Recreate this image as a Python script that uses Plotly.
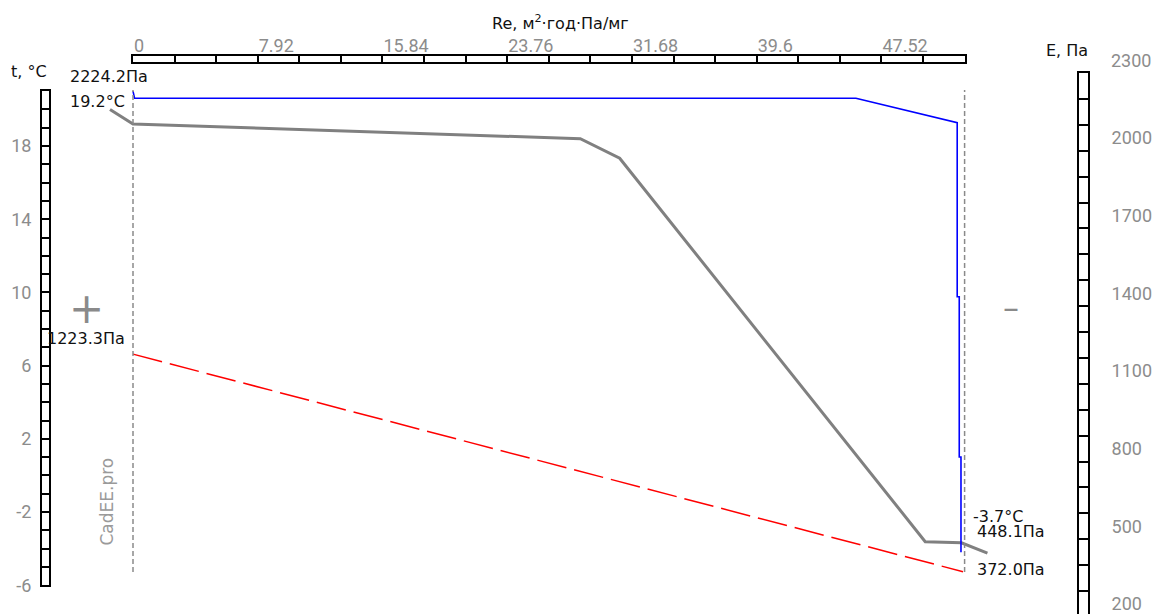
import plotly.graph_objects as go

# ---------------- data ----------------
# temperature profile (x in Re units, t in °C)
temp_x = [-1.46, 0.0, 28.4, 30.9, 50.3, 52.6, 54.25]
temp_t = [20.0, 19.2, 18.4, 17.33, -3.62, -3.68, -4.25]

# saturation vapour pressure E (Pa)
sat_x = [0.0, 0.1, 45.9, 52.33, 52.33, 52.46, 52.46, 52.57, 52.57]
sat_E = [2252.0, 2224.2, 2224.2, 2128.7, 1448.0, 1448.0, 821.0, 821.0, 448.1]

# partial vapour pressure e (Pa)
part_x = [0.0, 52.7]
part_E = [1223.3, 372.0]

# layer boundaries (Re)
bounds_x = [0.0, 52.8]

# axis ticks
re_tick_vals = [0, 7.92, 15.84, 23.76, 31.68, 39.6, 47.52]
re_tick_text = ["0", "7.92", "15.84", "23.76", "31.68", "39.6", "47.52"]
t_tick_vals = [-6, -2, 2, 6, 10, 14, 18]
t_tick_text = ["-6", "-2", "2", "6", "10", "14", "18"]
E_tick_vals = [200, 500, 800, 1100, 1400, 1700, 2000]
E_top_label = "2300"

# ---------------- geometry helpers ----------------
W, H = 1153, 614


def fy(py):
    return 1 - py / H


X0_PX, PX_PER_RE = 133.0, 15.75
x_range = [-X0_PX / PX_PER_RE, (W - X0_PX) / PX_PER_RE]

T_REF, T_REF_PX, PX_PER_T = 18.0, 146.0, 18.3
t_range = [T_REF - (H - T_REF_PX) / PX_PER_T, T_REF + T_REF_PX / PX_PER_T]

E_REF, E_REF_PX, PX_PER_E = 2224.2, 98.3, 0.2556
E_range = [E_REF - (H - E_REF_PX) / PX_PER_E, E_REF + E_REF_PX / PX_PER_E]

TICK_FONT = dict(family="Roboto", size=18, color="#8c8c8c")
TXT_FONT = dict(family="DejaVu Sans", size=16, color="#111111")

fig = go.Figure()

fig.add_trace(go.Scatter(x=temp_x, y=temp_t, mode="lines", xaxis="x", yaxis="y",
                         line=dict(color="#808080", width=3), showlegend=False,
                         hoverinfo="skip"))
fig.add_trace(go.Scatter(x=part_x, y=part_E, mode="lines", xaxis="x", yaxis="y2",
                         line=dict(color="#ff0000", width=1.5, dash="30px,8px"),
                         showlegend=False, hoverinfo="skip"))
fig.add_trace(go.Scatter(x=sat_x, y=sat_E, mode="lines", xaxis="x", yaxis="y2",
                         line=dict(color="#0000ff", width=1.6), showlegend=False,
                         hoverinfo="skip"))
# empty traces so ruler subplots exist
for xa, ya in [("x2", "y5"), ("x3", "y3"), ("x4", "y4")]:
    fig.add_trace(go.Scatter(x=[None], y=[None], xaxis=xa, yaxis=ya,
                             showlegend=False, hoverinfo="skip"))

ruler_line = dict(showline=True, linecolor="black", linewidth=2, mirror=True,
                  automargin=False)

# left ruler (t)
t_dom = [(-6 - t_range[0]) / (t_range[1] - t_range[0]),
         (21 - t_range[0]) / (t_range[1] - t_range[0])]
# right ruler (E axis labels)
E_LAB_200_PX, PX_PER_EL = 604.0, 0.259
el_bottom = 200 - (H - E_LAB_200_PX) / PX_PER_EL
el_top_px = E_LAB_200_PX - (2250 - 200) * PX_PER_EL

fig.update_layout(
    template="none",
    width=W, height=H, margin=dict(l=0, r=0, t=0, b=0, pad=0, autoexpand=False),
    paper_bgcolor="white", plot_bgcolor="rgba(0,0,0,0)",
    xaxis=dict(domain=[0, 1], range=x_range, visible=False, anchor="y",
               automargin=False),
    yaxis=dict(domain=[0, 1], range=t_range, visible=False, anchor="x",
               automargin=False),
    yaxis2=dict(range=E_range, overlaying="y", visible=False, anchor="x",
                automargin=False),
    # top ruler
    xaxis2=dict(domain=[X0_PX / W, (X0_PX + 52.8 * PX_PER_RE) / W], range=[0, 52.8],
                anchor="y5", side="top", tickmode="array", tickvals=re_tick_vals,
                ticktext=re_tick_text, ticks="", ticklen=0, tickfont=TICK_FONT,
                ticklabelposition="outside right", ticklabelstandoff=-5,
                ticklabeloverflow="allow",
                showgrid=True, gridcolor="black", gridwidth=2, zeroline=False,
                minor=dict(tickmode="linear", tick0=0, dtick=2.64, showgrid=True,
                           gridcolor="black", gridwidth=2, ticks=""),
                **ruler_line),
    yaxis5=dict(domain=[fy(62.3), fy(56)], range=[0, 1], anchor="x2",
                showticklabels=False, ticks="", showgrid=False, zeroline=False,
                **ruler_line),
    # left ruler
    xaxis3=dict(domain=[42 / W, 49 / W], range=[0, 1], anchor="y3",
                showticklabels=False, ticks="", showgrid=False, zeroline=False,
                **ruler_line),
    yaxis3=dict(domain=t_dom, range=[-6, 21], anchor="x3", side="left",
                tickmode="array", tickvals=t_tick_vals, ticktext=t_tick_text,
                ticks="", ticklen=0, ticklabeloverflow="allow",
                tickfont=TICK_FONT, ticklabelstandoff=5, showgrid=True,
                gridcolor="black", gridwidth=2, zeroline=False,
                minor=dict(tickmode="linear", tick0=0, dtick=1, showgrid=True,
                           gridcolor="black", gridwidth=2, ticks=""),
                **ruler_line),
    # right ruler
    xaxis4=dict(domain=[1079 / W, 1088 / W], range=[0, 1], anchor="y4",
                showticklabels=False, ticks="", showgrid=False, zeroline=False,
                **ruler_line),
    yaxis4=dict(domain=[0, fy(el_top_px)], range=[el_bottom, 2250], anchor="x4",
                side="right", tickmode="array", tickvals=E_tick_vals, ticks="",
                ticklen=0, tickfont=TICK_FONT, ticklabelstandoff=18, showgrid=False,
                ticklabeloverflow="allow", zeroline=False,
                minor=dict(tickmode="linear", tick0=50, dtick=100, showgrid=True,
                           gridcolor="black", gridwidth=2, ticks=""),
                **ruler_line),
)

# layer boundary dashed lines
for bx in bounds_x:
    fig.add_shape(type="line", xref="x", yref="paper", x0=bx, x1=bx,
                  y0=fy(572), y1=fy(90),
                  line=dict(color="#8a8a8a", width=1.5, dash="5px,3px"))

ann = []
# axis titles
ann.append(dict(text="Re, м<sup>2</sup>·год·Па/мг", xref="paper", yref="paper",
                x=560.5 / W, y=fy(22), xanchor="center", yanchor="middle",
                showarrow=False, font=TXT_FONT))
ann.append(dict(text="t, °C", xref="paper", yref="paper", x=29 / W, y=fy(71),
                xanchor="center", yanchor="middle", showarrow=False, font=TXT_FONT))
ann.append(dict(text="E, Па", xref="paper", yref="paper", x=1066.5 / W, y=fy(50),
                xanchor="center", yanchor="middle", showarrow=False, font=TXT_FONT))
ann.append(dict(text=E_top_label, xref="paper", yref="paper", x=1109 / W, y=fy(60),
                xanchor="left", yanchor="middle", showarrow=False, font=TICK_FONT))

# value labels tied to data points
ann.append(dict(text=f"{sat_E[1]:.1f}Па", xref="x", yref="y2", x=sat_x[0], y=sat_E[1],
                xanchor="right", yanchor="middle", xshift=17, yshift=22,
                showarrow=False, font=TXT_FONT))
ann.append(dict(text=f"{temp_t[1]:.1f}°C", xref="x", yref="y", x=temp_x[1], y=temp_t[1],
                xanchor="right", yanchor="middle", xshift=-6, yshift=23,
                showarrow=False, font=TXT_FONT))
ann.append(dict(text=f"{part_E[0]:.1f}Па", xref="x", yref="y2", x=part_x[0], y=part_E[0],
                xanchor="right", yanchor="middle", xshift=-6, yshift=16,
                showarrow=False, font=TXT_FONT))
ann.append(dict(text=f"{temp_t[-2]:.1f}°C", xref="x", yref="y", x=bounds_x[1], y=temp_t[-2],
                xanchor="left", yanchor="middle", xshift=6, yshift=26,
                showarrow=False, font=TXT_FONT))
ann.append(dict(text=f"{sat_E[-1]:.1f}Па", xref="x", yref="y2", x=bounds_x[1], y=sat_E[-1],
                xanchor="left", yanchor="middle", xshift=10, yshift=21,
                showarrow=False, font=TXT_FONT))
ann.append(dict(text=f"{part_E[-1]:.1f}Па", xref="x", yref="y2", x=bounds_x[1], y=part_E[-1],
                xanchor="left", yanchor="middle", xshift=10, yshift=2,
                showarrow=False, font=TXT_FONT))

# side signs and watermark
ann.append(dict(text="+", xref="paper", yref="paper", x=86 / W, y=fy(308),
                xanchor="center", yanchor="middle", showarrow=False,
                font=dict(family="DejaVu Sans", size=42, color="#8a8a8a")))
ann.append(dict(text="–", xref="paper", yref="paper", x=1011 / W, y=fy(308),
                xanchor="center", yanchor="middle", showarrow=False,
                font=dict(family="DejaVu Sans", size=32, color="#8a8a8a")))
ann.append(dict(text="CadEE.pro", xref="paper", yref="paper", x=106.5 / W, y=fy(502),
                xanchor="center", yanchor="middle", showarrow=False, textangle=-90,
                font=dict(family="DejaVu Sans", size=17, color="#9a9a9a")))

fig.update_layout(annotations=ann)
fig.write_html("out.html")
